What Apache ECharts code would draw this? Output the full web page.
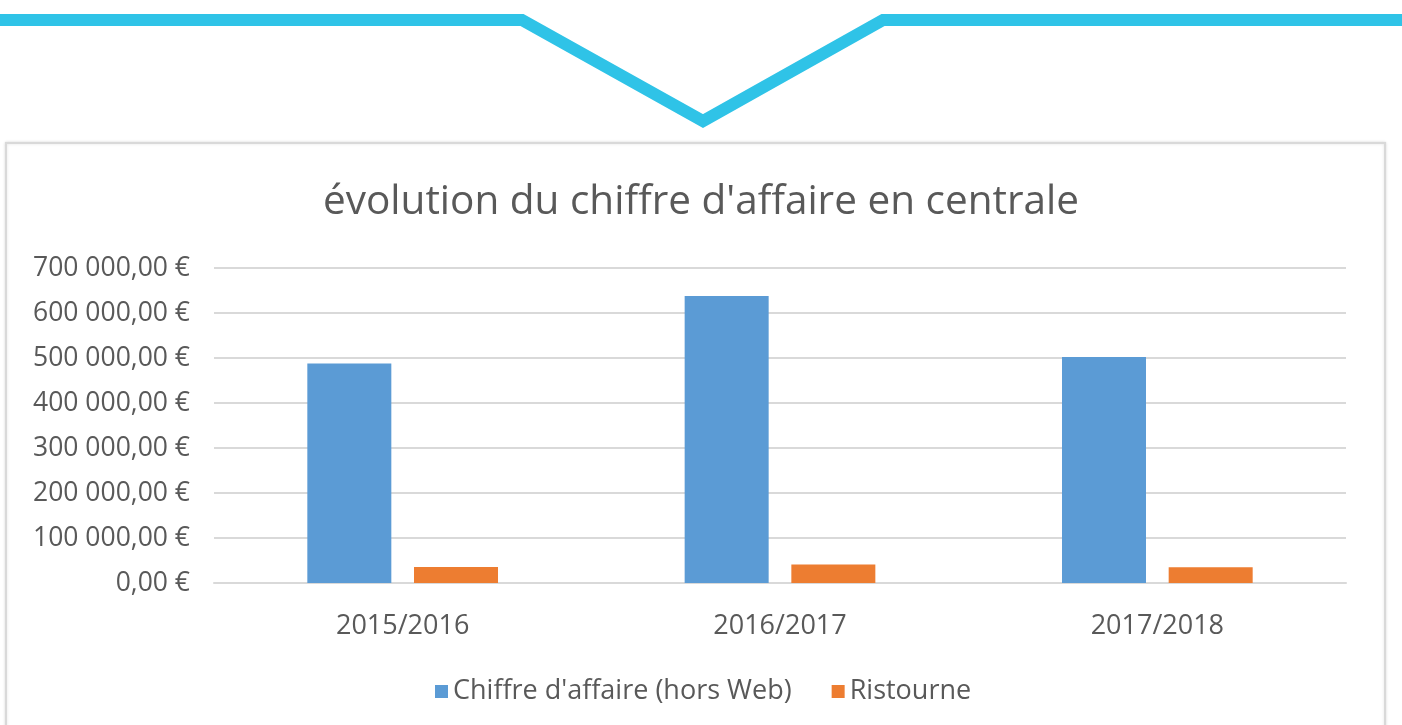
<!DOCTYPE html>
<html>
<head>
<meta charset="utf-8">
<script src="https://cdn.jsdelivr.net/npm/echarts@6/dist/echarts.min.js"></script>
<style>
html,body{margin:0;padding:0;background:#fff;}
#main{width:1402px;height:725px;}
</style>
</head>
<body>
<div id="main"></div>
<script>
var categories = ['2015/2016', '2016/2017', '2017/2018'];
var chiffreAffaire = [488000, 638000, 502000];
var ristourne = [35500, 41000, 35000];
var seriesNames = ["Chiffre d'affaire (hors Web)", 'Ristourne'];
var titleText = "évolution du chiffre d'affaire en centrale";

function fmtEuro(v) {
  var s = Math.round(v).toString().replace(/\B(?=(\d{3})+(?!\d))/g, ' ');
  return s + ',00 €';
}

var chart = echarts.init(document.getElementById('main'));
var font = '"Open Sans", sans-serif';
chart.setOption({
  animation: false,
  backgroundColor: '#fff',
  graphic: [
    {
      type: 'polyline',
      z: 100,
      shape: { points: [[0, 20], [522, 20], [703, 121], [883, 20], [1402, 20]] },
      style: { stroke: '#2fc3e7', lineWidth: 12, fill: null, lineJoin: 'miter' }
    },
    {
      type: 'rect',
      z: -1,
      shape: { x: 6, y: 143, width: 1379, height: 620 },
      style: { stroke: '#d9d9d9', lineWidth: 2, fill: '#fff', shadowBlur: 3, shadowColor: 'rgba(0,0,0,0.12)' }
    }
  ],
  title: {
    text: titleText,
    left: 'center',
    top: 177,
    textStyle: { fontFamily: font, fontSize: 40.5, fontWeight: 'normal', color: '#595959' }
  },
  legend: {
    data: seriesNames,
    left: 430,
    top: 673,
    icon: 'rect',
    itemWidth: 13,
    itemHeight: 13,
    itemGap: 40,
    textStyle: { fontFamily: font, fontSize: 27, color: '#595959' }
  },
  grid: { left: 214, right: 56, top: 268, bottom: 142, containLabel: false },
  xAxis: {
    type: 'category',
    data: categories,
    axisTick: { show: false },
    axisLine: { lineStyle: { color: '#d9d9d9', width: 2 } },
    axisLabel: { fontFamily: font, fontSize: 27, color: '#595959', margin: 30 }
  },
  yAxis: {
    type: 'value',
    min: 0,
    max: 700000,
    interval: 100000,
    axisLine: { show: false },
    axisTick: { show: false },
    splitLine: { lineStyle: { color: '#d9d9d9', width: 2 } },
    axisLabel: { fontFamily: font, fontSize: 26.5, color: '#595959', margin: 24, formatter: fmtEuro }
  },
  series: [
    {
      name: seriesNames[0],
      type: 'bar',
      data: chiffreAffaire,
      barWidth: 84,
      barGap: '27%',
      itemStyle: { color: '#5b9bd5' }
    },
    {
      name: seriesNames[1],
      type: 'bar',
      data: ristourne,
      barWidth: 84,
      barGap: '27%',
      itemStyle: { color: '#ed7d31' }
    }
  ]
});
</script>
</body>
</html>
